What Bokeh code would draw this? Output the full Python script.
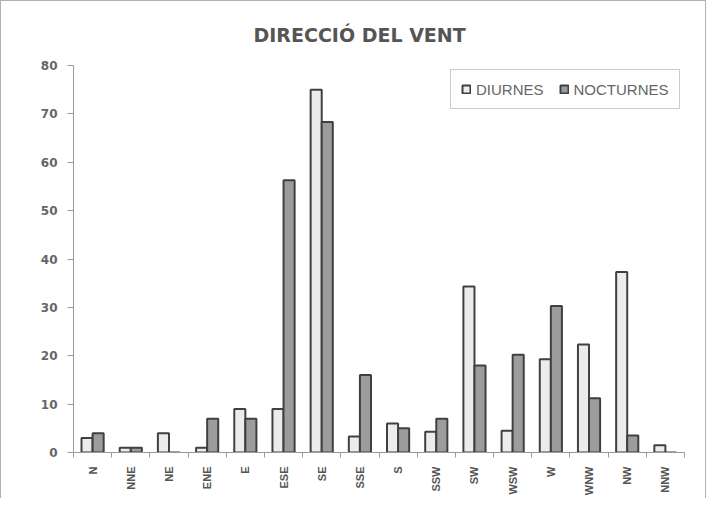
import numpy as np
from bokeh.plotting import figure
from bokeh.models import ColumnDataSource, Range1d, FixedTicker, Legend, LegendItem
from bokeh.transform import dodge
from bokeh.embed import file_html
from bokeh.resources import INLINE

categories = ["N", "NNE", "NE", "ENE", "E", "ESE", "SE", "SSE", "S", "SSW",
              "SW", "WSW", "W", "WNW", "NW", "NNW"]
diurnes = [3, 1, 4, 1, 9, 9, 75, 3.3, 6, 4.3, 34.3, 4.5, 19.3, 22.3, 37.3, 1.5]
nocturnes = [4, 1, 0, 7, 7, 56.3, 68.3, 16, 5, 7, 18, 20.2, 30.3, 11.2, 3.5, 0]
y_ticks = [0, 10, 20, 30, 40, 50, 60, 70, 80]

n = len(categories)
centers = [i + 0.5 for i in range(n)]
bounds = list(range(n + 1))

src = ColumnDataSource(dict(x=centers, cat=categories, d=diurnes, nc=nocturnes))

p = figure(width=706, height=498, output_backend="svg", toolbar_location=None,
           x_range=Range1d(0, n), y_range=Range1d(0, 80),
           title="DIRECCIÓ DEL VENT",
           min_border_left=72, min_border_right=23, min_border_top=64,
           min_border_bottom=47)

p.title.align = "left"
p.title.text_font = "DejaVu Sans"
p.title.text_font_size = "19px"
p.title.text_font_style = "bold"
p.title.text_color = "#555555"
p.title.offset = 180
p.title.standoff = 40

p.outline_line_color = None
p.xgrid.visible = False
p.ygrid.visible = False
p.background_fill_color = "white"
p.border_fill_color = "white"
p.styles = {"border-left": "1px solid #b0b0b0", "border-top": "1px solid #b0b0b0",
            "border-right": "1px solid #b0b0b0"}

bw = 0.29
r1 = p.vbar(x=dodge("x", -0.145, range=p.x_range), top="d", width=bw, bottom=0,
            source=src, fill_color="#ececec", line_color="#404040", line_width=2)
r2 = p.vbar(x=dodge("x", 0.145, range=p.x_range), top="nc", width=bw, bottom=0,
            source=src, fill_color="#9c9c9c", line_color="#404040", line_width=2)

# x axis
xa = p.xaxis[0]
xa.ticker = FixedTicker(ticks=centers, minor_ticks=bounds)
xa.major_label_overrides = {c: lab for c, lab in zip(centers, categories)}
xa.major_label_orientation = np.pi / 2
xa.major_tick_line_color = None
xa.major_tick_out = 0
xa.minor_tick_out = 5
xa.minor_tick_in = 0
xa.minor_tick_line_color = "#9a9a9a"
xa.axis_line_color = "#9a9a9a"
xa.major_label_text_font = "Liberation Sans"
xa.major_label_text_font_style = "bold"
xa.major_label_text_font_size = "11px"
xa.major_label_text_color = "#555555"
xa.major_label_standoff = 9

# y axis
ya = p.yaxis[0]
ya.ticker = FixedTicker(ticks=y_ticks)
ya.major_tick_out = 6
ya.major_tick_in = 0
ya.minor_tick_line_color = None
ya.axis_line_color = "#9a9a9a"
ya.major_tick_line_color = "#9a9a9a"
ya.major_label_text_font = "DejaVu Sans"
ya.major_label_text_font_style = "bold"
ya.major_label_text_font_size = "12px"
ya.major_label_text_color = "#666666"
ya.major_label_standoff = 10

legend = Legend(items=[LegendItem(label="DIURNES", renderers=[r1]),
                       LegendItem(label="NOCTURNES", renderers=[r2])],
                orientation="horizontal", location=(377, 343))
legend.border_line_color = "#9a9a9a"
legend.border_line_width = 1
legend.background_fill_color = "white"
legend.padding = 10
legend.margin = 0
legend.spacing = 15
legend.label_standoff = 5
legend.glyph_width = 10
legend.glyph_height = 10
legend.label_text_font = "Liberation Sans"
legend.label_text_font_size = "15px"
legend.label_text_color = "#666666"
legend.label_height = 18
p.add_layout(legend, "center")

open("out.html", "w").write(file_html(p, INLINE))
